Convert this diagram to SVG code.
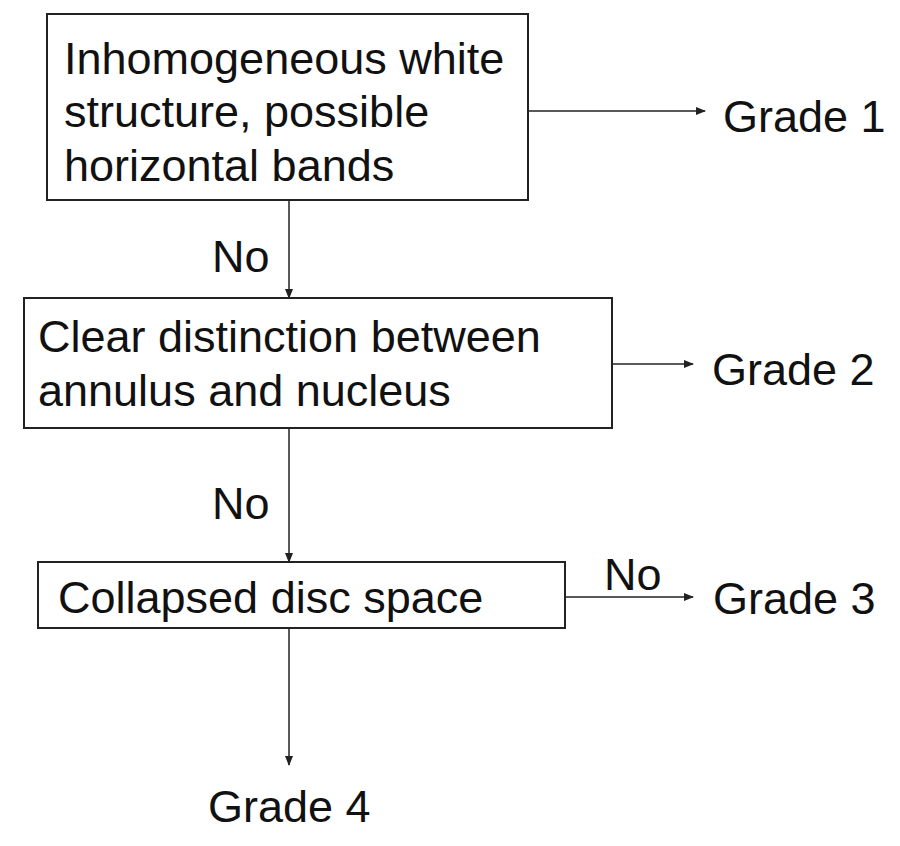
<svg xmlns="http://www.w3.org/2000/svg" width="900" height="846" viewBox="0 0 900 846">
<style>
text{font-family:"Liberation Sans",Arial,sans-serif;font-size:45px;fill:#111}
.box{fill:#fff;stroke:#222;stroke-width:2}
.c{stroke:#222;stroke-width:1.5;fill:none;marker-end:url(#a)}
</style>
<defs><marker id="a" markerWidth="10" markerHeight="8" refX="9" refY="4" orient="auto" markerUnits="userSpaceOnUse"><path d="M0,0L10,4L0,8z" fill="#222"/></marker></defs>
<rect width="900" height="846" fill="#fff"/>
<g id="connectors">
<path class="c" d="M528,111H705"/>
<path class="c" d="M289,200V298"/>
<path class="c" d="M612,364H693"/>
<path class="c" d="M289,428V562"/>
<path class="c" d="M565,597H693"/>
<path class="c" d="M289,628V765"/>
<text x="212" y="272">No</text>
<text x="212" y="519">No</text>
<text x="604" y="590">No</text>
</g>
<g id="n1"><rect class="box" x="47" y="14" width="481" height="186"/>
<text x="64" y="74">Inhomogeneous white</text><text x="64" y="127">structure, possible</text><text x="64" y="181">horizontal bands</text></g>
<g id="g1"><text x="723" y="132">Grade 1</text></g>
<g id="n2"><rect class="box" x="24" y="298" width="588" height="130"/>
<text x="38" y="352">Clear distinction between</text><text x="38" y="406">annulus and nucleus</text></g>
<g id="g2"><text x="712" y="385">Grade 2</text></g>
<g id="n3"><rect class="box" x="38" y="562" width="527" height="66"/>
<text x="58" y="613">Collapsed disc space</text></g>
<g id="g3"><text x="713" y="614">Grade 3</text></g>
<g id="g4"><text x="208" y="822">Grade 4</text></g>
</svg>
